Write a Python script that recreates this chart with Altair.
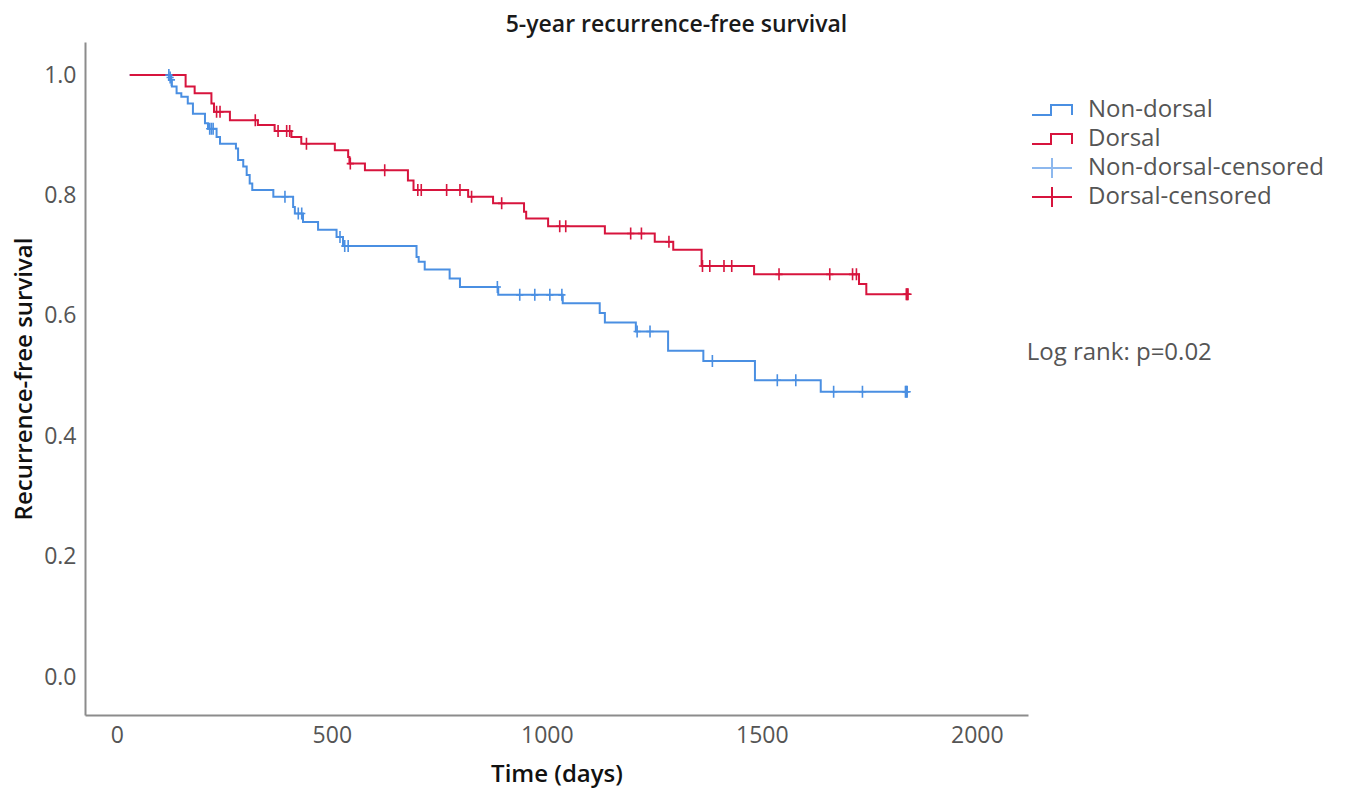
import altair as alt
import pandas as pd

# ---- Kaplan-Meier step data ----
red_time = [30, 160, 181, 220, 226, 263, 328, 367, 406, 429, 507, 538, 541, 577, 677, 690, 817, 875, 947, 952,
            1003, 1135, 1251, 1294, 1360, 1482, 1726, 1743, 1838]
red_surv = [1.0, 0.981, 0.970, 0.953, 0.939, 0.925, 0.917, 0.907, 0.897, 0.886, 0.875, 0.864, 0.853, 0.842, 0.825,
            0.809, 0.798, 0.787, 0.773, 0.762, 0.749, 0.737, 0.723, 0.710, 0.683, 0.669, 0.653, 0.636, 0.636]

red_cens_time = [232, 240, 322, 375, 395, 402, 441, 543, 623, 700, 708, 767, 798, 825, 895, 1030, 1044, 1195, 1220,
                 1284, 1362, 1379, 1412, 1430, 1540, 1658, 1711, 1720, 1836, 1838, 1840]
red_cens_surv = [0.939, 0.939, 0.925, 0.907, 0.907, 0.907, 0.886, 0.853, 0.842, 0.809, 0.809, 0.809, 0.809, 0.798,
                 0.787, 0.749, 0.749, 0.737, 0.737, 0.723, 0.683, 0.683, 0.683, 0.683, 0.669, 0.669, 0.669, 0.669,
                 0.636, 0.636, 0.636]

blue_time = [30, 125, 128, 139, 150, 165, 177, 205, 212, 232, 240, 277, 282, 294, 302, 309, 315, 364, 410, 414,
             433, 468, 511, 526, 697, 702, 716, 774, 798, 887, 1037, 1123, 1135, 1207, 1282, 1364, 1484, 1637, 1838]
blue_surv = [1.0, 0.992, 0.981, 0.970, 0.964, 0.953, 0.936, 0.920, 0.911, 0.897, 0.886, 0.878, 0.859, 0.848, 0.834,
             0.820, 0.809, 0.798, 0.781, 0.770, 0.756, 0.743, 0.731, 0.716, 0.698, 0.690, 0.677, 0.662, 0.648, 0.635,
             0.621, 0.605, 0.589, 0.574, 0.542, 0.525, 0.493, 0.474, 0.474]

blue_cens_time = [121, 124, 127, 216, 220, 224, 391, 422, 430, 519, 530, 538, 885, 937, 972, 1007, 1035, 1210, 1240,
                  1385, 1536, 1579, 1667, 1734, 1834, 1836, 1838]
blue_cens_surv = [1.0, 0.996, 0.992, 0.911, 0.911, 0.911, 0.798, 0.770, 0.770, 0.731, 0.716, 0.716, 0.648, 0.635,
                  0.635, 0.635, 0.635, 0.574, 0.574, 0.525, 0.493, 0.493, 0.474, 0.474, 0.474, 0.474, 0.474]

series_names = ["Non-dorsal", "Dorsal", "Non-dorsal-censored", "Dorsal-censored"]
series_colors = ["#4A8FE2", "#D7143D", "#8DB8EE", "#D7143D"]
BLUE = "#4A8FE2"
RED = "#D7143D"

x_ticks = [0, 500, 1000, 1500, 2000]
y_ticks = [0.0, 0.2, 0.4, 0.6, 0.8, 1.0]

logrank_text = ["Log rank: p=0.02"]
logrank_x = [2116]
logrank_y = [0.538]

# ---- build tables ----
blue_df = pd.DataFrame({"time": blue_time, "surv": blue_surv})
red_df = pd.DataFrame({"time": red_time, "surv": red_surv})
blue_c_df = pd.DataFrame({"time": blue_cens_time, "surv": blue_cens_surv})
red_c_df = pd.DataFrame({"time": red_cens_time, "surv": red_cens_surv})
legend_df = pd.DataFrame({"time": [-1000] * 4, "surv": [0.5] * 4, "series": series_names})
text_df = pd.DataFrame({"time": logrank_x, "surv": logrank_y, "label": logrank_text})

FONT = "Open Sans"
STEP_PATH = "M-2,0.5H-0.1V-0.5H2V0.5"
CROSS_LEG = "M-2,0H2M0,-1V1"
CROSS_PLOT = "M-0.6,0H0.6M0,-1V1"

x_scale = alt.Scale(domain=[-74, 2119], nice=False, zero=False)
y_scale = alt.Scale(domain=[-0.063, 1.055], nice=False, zero=False)

x_axis = alt.Axis(values=x_ticks, format="d", ticks=False, grid=False, domainColor="#8c8c8c", domainWidth=2,
                  labelFont=FONT, labelFontSize=23, labelColor="#555555", labelPadding=9,
                  title="Time (days)", titleFont=FONT, titleFontSize=24, titleFontWeight=600,
                  titleColor="#111111", titlePadding=15)
y_axis = alt.Axis(values=y_ticks, format=".1f", ticks=False, grid=False, domainColor="#8c8c8c", domainWidth=2,
                  labelFont=FONT, labelFontSize=23, labelColor="#555555", labelPadding=9,
                  title="Recurrence-free survival", titleFont=FONT, titleFontSize=24, titleFontWeight=600,
                  titleColor="#111111", titlePadding=7)

X = alt.X("time:Q", scale=x_scale, axis=x_axis)
Y = alt.Y("surv:Q", scale=y_scale, axis=y_axis)
Xs = alt.X("time:Q", scale=x_scale)
Ys = alt.Y("surv:Q", scale=y_scale)

blue_line = alt.Chart(blue_df).mark_line(interpolate="step-after", strokeWidth=2, color=BLUE).encode(x=X, y=Y)
red_line = alt.Chart(red_df).mark_line(interpolate="step-after", strokeWidth=2, color=RED).encode(x=Xs, y=Ys)

blue_cens = alt.Chart(blue_c_df).mark_point(shape=CROSS_PLOT, size=144, filled=False, strokeWidth=1.6,
                                            opacity=1, color=BLUE).encode(x=Xs, y=Ys)
red_cens = alt.Chart(red_c_df).mark_point(shape=CROSS_PLOT, size=144, filled=False, strokeWidth=1.6,
                                          opacity=1, color=RED).encode(x=Xs, y=Ys)

leg = alt.Legend(title=None, orient="none", legendX=955, legendY=56,
                 labelFont=FONT, labelFontSize=24, labelColor="#555555",
                 symbolSize=400, symbolStrokeWidth=2, labelOffset=24,
                 rowPadding=1, labelLimit=400, gridAlign="all", columns=1)

legend_layer = alt.Chart(legend_df).mark_point(filled=False, strokeWidth=2, opacity=1, clip=True).encode(
    x=Xs,
    y=Ys,
    color=alt.Color("series:N", scale=alt.Scale(domain=series_names, range=series_colors), legend=leg),
    shape=alt.Shape("series:N", scale=alt.Scale(domain=series_names,
                                                range=[STEP_PATH, STEP_PATH, CROSS_LEG, CROSS_LEG]),
                    legend=leg),
)

logrank = alt.Chart(text_df).mark_text(align="left", baseline="middle", font=FONT, fontSize=24,
                                        color="#555555").encode(x=Xs, y=Ys, text="label:N")

chart = alt.layer(blue_line, red_line, blue_cens, red_cens, legend_layer, logrank).properties(
    width=943,
    height=673,
    title=alt.TitleParams("5-year recurrence-free survival", font=FONT, fontSize=23, fontWeight=600,
                          color="#1a1a1a", dx=120, offset=5),
    padding={"left": 77, "top": 34, "right": 318, "bottom": 73},
    autosize=alt.AutoSizeParams(type="none"),
).configure_view(stroke=None)

chart.save("out.html", embed_options={"renderer": "svg", "actions": False})
